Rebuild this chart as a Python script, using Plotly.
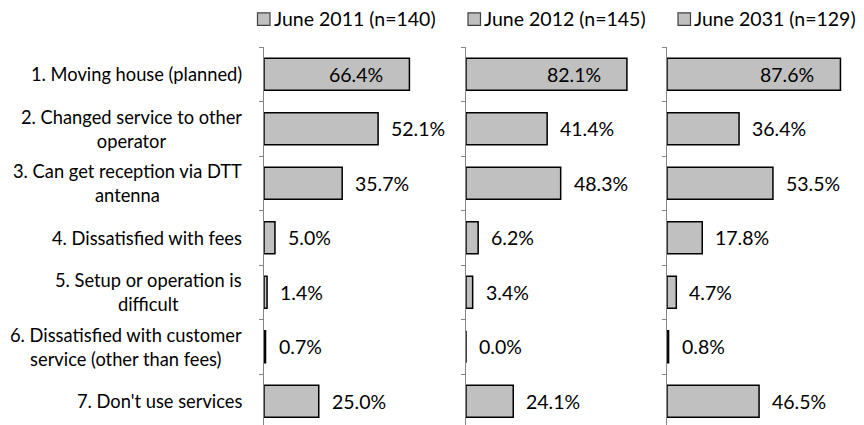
import plotly.graph_objects as go

categories = [
    "1. Moving house (planned)",
    "2. Changed service to other<br>operator",
    "3. Can get reception via DTT<br>antenna",
    "4. Dissatisfied with fees",
    "5. Setup or operation is<br>difficult",
    "6. Dissatisfied with customer<br>service (other than fees)",
    "7. Don't use services",
]
series_names = ["June 2011 (n=140)", "June 2012 (n=145)", "June 2031 (n=129)"]
june_2011 = [66.4, 52.1, 35.7, 5.0, 1.4, 0.7, 25.0]
june_2012 = [82.1, 41.4, 48.3, 6.2, 3.4, 0.0, 24.1]
june_2031 = [87.6, 36.4, 53.5, 17.8, 4.7, 0.8, 46.5]
series_values = [june_2011, june_2012, june_2031]

W, H = 864, 425
OFF = 8  # page body margin offset of the rendered figure
FONT = "Lato"
FS_CAT = 18.3
FS = 19.5
FS_LEG = 19.5
TXT = "#000000"
BAR_FILL = "#C0C0C0"
AXIS_COL = "#868686"

# panel layout in window pixels: axis x, right edge, px per percent
panels = [
    dict(x0=264, x1=465, scale=2.19),
    dict(x0=466, x1=666, scale=1.96),
    dict(x0=667, x1=872, scale=1.98),
]
legend_x = [257.5, 468, 678]

ypos = list(range(len(categories)))
row_px = 54.5
top_win = 47
top_m = top_win - OFF
plot_h = H - top_m
yrange = [-0.5 + plot_h / row_px, -0.5]


def fx(px):
    return (px - OFF) / W


def fy(px):
    return (H - (px - OFF)) / plot_h


fig = go.Figure()
annotations = []
shapes = []

for k, (vals, name, p) in enumerate(zip(series_values, series_names, panels)):
    sfx = "" if k == 0 else str(k + 1)
    fig.add_trace(go.Bar(
        x=vals, y=ypos, orientation="h", name=name,
        xaxis="x" + sfx, yaxis="y" + sfx,
        marker=dict(color=BAR_FILL, line=dict(color="#000000", width=1.5)),
        width=0.59, showlegend=False, hoverinfo="x+y",
    ))
    fig.layout["xaxis" + sfx] = dict(
        domain=[fx(p["x0"]), min(1, fx(p["x1"]))],
        range=[0, (min(W + OFF, p["x1"]) - p["x0"]) / p["scale"]],
        visible=False, anchor="y" + sfx,
    )
    fig.layout["yaxis" + sfx] = dict(
        domain=[0, 1], range=yrange, anchor="x" + sfx,
        showline=True, linecolor=AXIS_COL, linewidth=1.3,
        showticklabels=False, showgrid=False, zeroline=False,
        ticks="",
        minor=dict(tickmode="array", tickvals=[i - 0.5 for i in range(len(categories) + 1)],
                   ticks="outside", ticklen=4, tickcolor=AXIS_COL, tickwidth=1, showgrid=False),
    )
    vmax = max(vals)
    for i, v in enumerate(vals):
        inside = v == vmax and v > 60
        annotations.append(dict(
            x=v, y=i, xref="x" + sfx, yref="y" + sfx,
            text=f"{v:.1f}%", showarrow=False,
            xanchor="right" if inside else "left",
            xshift=-24 if inside else 11,
            font=dict(family=FONT, size=FS, color=TXT),
        ))
    # legend-like header
    lx = legend_x[k]
    shapes.append(dict(type="rect", xref="paper", yref="paper",
                       x0=fx(lx), x1=fx(lx + 12.5), y0=fy(25.3), y1=fy(12.8),
                       fillcolor=BAR_FILL, line=dict(color="#404040", width=1.2)))
    annotations.append(dict(
        x=fx(lx + 14), y=fy(19), xref="paper", yref="paper",
        text=name, showarrow=False, xanchor="left", yanchor="middle",
        font=dict(family=FONT, size=FS_LEG, color=TXT),
    ))

# category labels (centered lines, right-anchored block)
for i, cat in enumerate(categories):
    annotations.append(dict(
        x=fx(244), y=i, xref="paper", yref="y",
        text=cat, showarrow=False, xanchor="right", align="center",
        font=dict(family=FONT, size=FS_CAT, color=TXT),
    ))

fig.update_layout(
    width=W, height=H,
    margin=dict(l=0, r=0, t=top_m, b=0),
    plot_bgcolor="white", paper_bgcolor="white",
    annotations=annotations, shapes=shapes,
    bargap=0.41,
)
fig.write_html("out.html")
